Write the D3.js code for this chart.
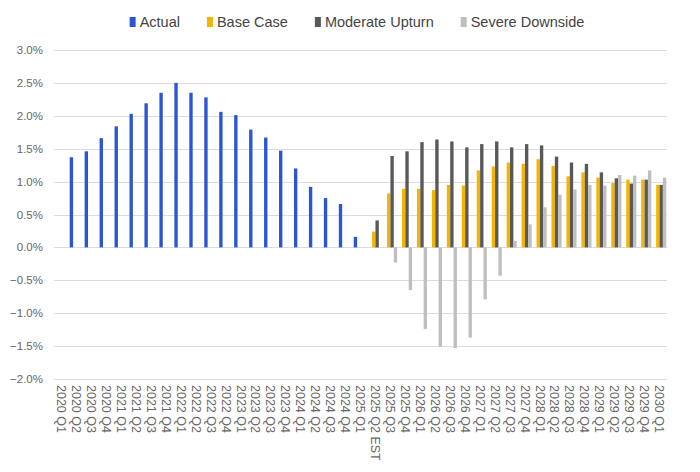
<!DOCTYPE html>
<html>
<head>
<meta charset="utf-8">
<script src="https://cdn.jsdelivr.net/npm/d3@7"></script>
<style>
  html, body { margin: 0; padding: 0; background: #fff; }
  svg { display: block; font-family: "Liberation Sans", Arial, sans-serif; }
</style>
</head>
<body>
<svg id="chart" width="700" height="472"></svg>
<script>
const categories = [
  "2020 Q1","2020 Q2","2020 Q3","2020 Q4","2021 Q1","2021 Q2","2021 Q3","2021 Q4",
  "2022 Q1","2022 Q2","2022 Q3","2022 Q4","2023 Q1","2023 Q2","2023 Q3","2023 Q4",
  "2024 Q1","2024 Q2","2024 Q3","2024 Q4","2025 Q1","2025 Q2 EST","2025 Q3","2025 Q4",
  "2026 Q1","2026 Q2","2026 Q3","2026 Q4","2027 Q1","2027 Q2","2027 Q3","2027 Q4",
  "2028 Q1","2028 Q2","2028 Q3","2028 Q4","2029 Q1","2029 Q2","2029 Q3","2029 Q4","2030 Q1"
];
const seriesNames = ["Actual", "Base Case", "Moderate Upturn", "Severe Downside"];
const seriesColors = ["#2a56d6", "#f4b400", "#595959", "#bfbfbf"];

// values in percent
const actual = [
  null, 1.37, 1.46, 1.66, 1.84, 2.03, 2.19, 2.35, 2.50, 2.35, 2.28, 2.06, 2.01,
  1.79, 1.67, 1.47, 1.20, 0.92, 0.75, 0.66, 0.16,
  null, null, null, null, null, null, null, null, null, null, null, null, null, null, null, null, null, null, null, null
];
const baseCase = [
  null, null, null, null, null, null, null, null, null, null, null, null, null, null, null, null, null, null, null, null, null,
  0.24, 0.82, 0.89, 0.89, 0.87, 0.95, 0.94, 1.17, 1.23, 1.29, 1.27, 1.34, 1.24, 1.08, 1.14, 1.06, 0.98, 1.03, 1.03, 0.95
];
const moderateUpturn = [
  null, null, null, null, null, null, null, null, null, null, null, null, null, null, null, null, null, null, null, null, null,
  0.41, 1.39, 1.46, 1.60, 1.64, 1.61, 1.52, 1.57, 1.61, 1.52, 1.57, 1.55, 1.38, 1.29, 1.27, 1.14, 1.05, 0.97, 1.03, 0.95
];
const severeDownside = [
  null, null, null, null, null, null, null, null, null, null, null, null, null, null, null, null, null, null, null, null, null,
  null, -0.23, -0.65, -1.24, -1.51, -1.53, -1.37, -0.79, -0.43, 0.10, 0.35, 0.61, 0.80, 0.88, 0.95, 0.94, 1.10, 1.09, 1.17, 1.06
];
const yTicks = [-2.0, -1.5, -1.0, -0.5, 0.0, 0.5, 1.0, 1.5, 2.0, 2.5, 3.0];

const seriesValues = [actual, baseCase, moderateUpturn, severeDownside];

const svg = d3.select("#chart");
const plot = { left: 54, right: 667, top: 50, bottom: 379 };

const x = d3.scaleBand().domain(categories).range([plot.left, plot.right])
  .paddingInner(0.1).paddingOuter(0.05);
const xs = d3.scaleBand().domain(seriesNames).range([0, x.bandwidth()]);
const y = d3.scaleLinear().domain([-2, 3]).range([plot.bottom, plot.top]);

// gridlines
svg.append("g").selectAll("line").data(yTicks).join("line")
  .attr("x1", plot.left).attr("x2", plot.right)
  .attr("y1", d => Math.round(y(d)) + 0.5).attr("y2", d => Math.round(y(d)) + 0.5)
  .attr("stroke", "#dcdcdc").attr("stroke-width", 1);

// y labels
svg.append("g").selectAll("text").data(yTicks).join("text")
  .attr("x", 43).attr("y", d => y(d)).attr("dy", "0.35em")
  .attr("text-anchor", "end").attr("font-size", 11.5).attr("fill", "#666")
  .text(d => d3.format(".1f")(d) + "%");

// bars
const rows = [];
seriesNames.forEach((s, si) => {
  seriesValues[si].forEach((v, i) => {
    if (v !== null) rows.push({ s, si, cat: categories[i], v });
  });
});
svg.append("g").selectAll("rect").data(rows).join("rect")
  .attr("x", d => x(d.cat) + xs(d.s))
  .attr("width", xs.bandwidth())
  .attr("y", d => y(Math.max(0, d.v)))
  .attr("height", d => Math.abs(y(d.v) - y(0)))
  .attr("fill", d => seriesColors[d.si]);

// x labels (rotated, reading top to bottom)
svg.append("g").selectAll("text").data(categories).join("text")
  .attr("transform", d => `translate(${x(d) + x.bandwidth() / 2},385) rotate(90)`)
  .attr("dy", "0.35em")
  .attr("text-anchor", "start").attr("font-size", 12.5).attr("fill", "#666")
  .text(d => d);

// legend
const legend = svg.append("g");
const items = legend.selectAll("g").data(seriesNames).join("g");
items.append("rect").attr("x", 0).attr("y", -5).attr("width", 6).attr("height", 10)
  .attr("fill", (d, i) => seriesColors[i]);
items.append("text").attr("x", 10).attr("y", 0).attr("dy", "0.35em")
  .attr("font-size", 14.5).attr("fill", "#444").text(d => d);
const gap = 27;
let cx = 0;
const offsets = [];
items.each(function () {
  offsets.push(cx);
  const w = 10 + d3.select(this).select("text").node().getComputedTextLength();
  cx += w + gap;
});
const total = cx - gap;
const startX = 357 - total / 2;
items.attr("transform", (d, i) => `translate(${startX + offsets[i]},22)`);
</script>
</body>
</html>
